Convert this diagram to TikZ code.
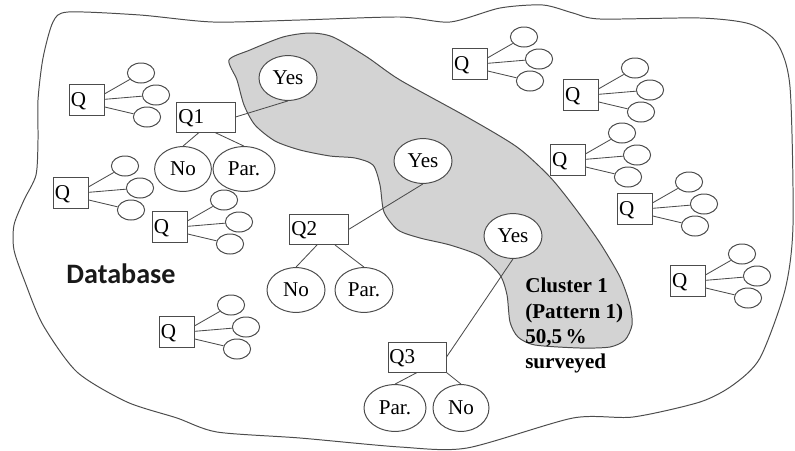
\documentclass[tikz,border=0pt]{standalone}
\usepackage{fontspec}
\setmainfont{Liberation Serif}
\newfontfamily\dbfont{Carlito}
\usetikzlibrary{shapes.geometric}

\definecolor{edgegray}{HTML}{4C4C4C}
\definecolor{clustergray}{HTML}{D3D3D3}

\tikzset{
  qbig/.style={draw=edgegray, line width=0.7pt, minimum height=0.75cm, text width=1.38cm, text height=0.34cm, text depth=0.02cm, inner xsep=1pt, align=left, font=\fontsize{15}{17}\selectfont},
  qsmall/.style={draw=edgegray, line width=0.7pt, minimum height=0.77cm, text width=0.8cm, text height=0.34cm, text depth=0.02cm, inner xsep=1pt, align=left, font=\fontsize{15}{17}\selectfont},
  answer/.style={ellipse, draw=edgegray, fill=white, line width=0.7pt, minimum width=1.45cm, minimum height=1.12cm, inner sep=0pt, font=\fontsize{15}{17}\selectfont},
  leaf/.style={ellipse, draw=edgegray, fill=white, line width=0.7pt, minimum width=0.68cm, minimum height=0.5cm, inner sep=0pt},
  link/.style={edgegray, line width=0.6pt}
}

\begin{document}
\begin{tikzpicture}[x=0.025cm, y=-0.025cm]
\useasboundingbox (0,0) rectangle (795,450);

% database outline
\draw[edgegray, line width=0.7pt, tension=0.45] plot[smooth cycle] coordinates {
  (68,12) (140,15) (213,22) (300,20) (400,17) (450,22) (500,8) (543,5) (573,13)
  (600,19) (700,18) (750,24) (777,43) (790,87) (793,225) (785,290) (760,358)
  (733,385) (700,402) (633,417) (573,418) (467,448) (400,447) (300,438)
  (217,432) (177,418) (127,402) (77,372) (43,325) (25,282) (14,250) (14,225)
  (24,200) (36,175) (38,140) (38,100) (43,58) (53,22)};

% cluster 1
\draw[edgegray, fill=clustergray, line width=0.7pt, tension=0.45] plot[smooth cycle] coordinates {
  (229,60) (250,50) (283,37) (310,33) (333,37) (367,57) (400,80) (467,117)
  (517,147) (550,177) (575,208) (600,243) (620,277) (630,305) (632,325)
  (625,340) (610,347) (580,348) (535,345) (518,337) (510,322) (507,295)
  (500,275) (480,256) (450,245) (420,238) (398,230) (384,212) (380,185)
  (373,165) (355,158) (330,156) (300,150) (275,141) (255,125) (244,105) (237,80)};

\node[font=\dbfont\bfseries\fontsize{20}{24}\selectfont, text=black!90] (db) at (121,274) {Database};

% other questions
\foreach \x/\y [count=\i] in {87/100, 71/193, 170/227, 177/332, 470/64, 581/95, 568/160, 635/209, 688/281} {
  \node[qsmall] (q\i) at (\x,\y) {Q};
  \node[leaf] (q\i-a) at (\x+54,\y-27) {};
  \node[leaf] (q\i-b) at (\x+69,\y-5) {};
  \node[leaf] (q\i-c) at (\x+60,\y+17) {};
  \draw[link] ([yshift=4.5pt]q\i.east) -- (q\i-a);
  \draw[link] ([yshift=0.5pt]q\i.east) -- (q\i-b);
  \draw[link] ([yshift=-5pt]q\i.east) -- (q\i-c);
}

% Q1
\node[qbig] (q1big) at (206,117) {Q1};
\node[answer] (yes1) at (288,78) {Yes};
\node[answer, minimum width=1.42cm] (no1) at (183,169) {No};
\node[answer, minimum width=1.55cm] (par1) at (244,169) {Par.};
\draw[link] (q1big.east) -- (yes1.south);
\draw[link] ([xshift=-0.175cm]q1big.south) -- (no1.north);
\draw[link] ([xshift=0.225cm]q1big.south) -- (par1.north);

% Q2
\node[qbig] (q2big) at (319,229.5) {Q2};
\node[answer] (yes2) at (423,161) {Yes};
\node[answer] (no2) at (296,290) {No};
\node[answer] (par2) at (364,290) {Par.};
\draw[link] (q2big.east) -- (yes2.south);
\draw[link] ([xshift=-0.05cm]q2big.south) -- (no2.north);
\draw[link] ([xshift=0.4cm]q2big.south) -- (par2.north);

% Q3
\node[qbig] (q3big) at (417,357) {Q3};
\node[answer] (yes3) at (513,236) {Yes};
\node[answer, minimum width=1.55cm, minimum height=1.17cm] (par3) at (395,408) {Par.};
\node[answer, minimum width=1.4cm, minimum height=1.17cm] (no3) at (461,408) {No};
\draw[link] (q3big.east) -- (yes3.south);
\draw[link] (q3big.south) -- (par3.north);
\draw[link] (q3big.south east) -- (no3.north);

\node[anchor=north west, inner sep=0pt, align=left, font=\bfseries\fontsize{15}{18}\selectfont] (cl1) at (525,278)
  {Cluster 1\\(Pattern 1)\\50,5\,\%\\surveyed};
\end{tikzpicture}
\end{document}
